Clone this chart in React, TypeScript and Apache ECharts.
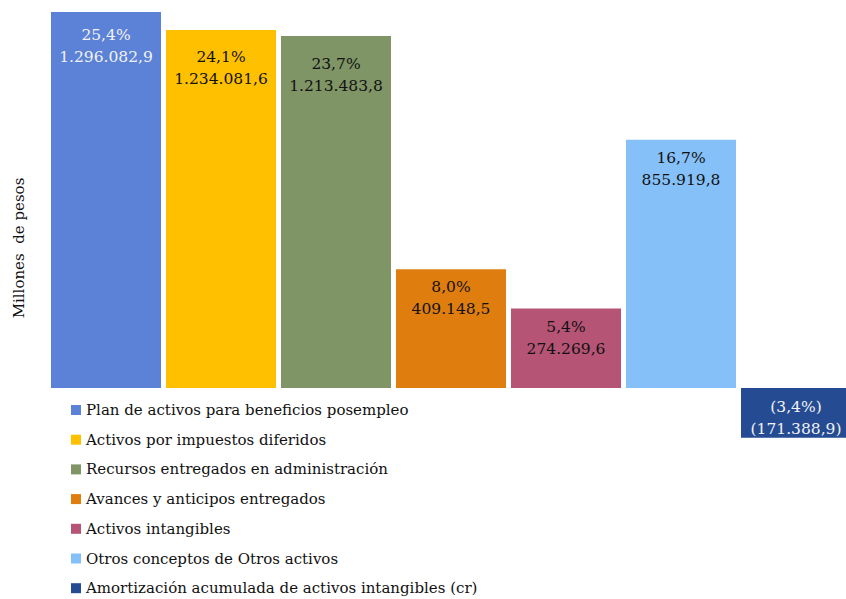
import React, { useEffect, useRef } from "react";
import * as echarts from "echarts";

const categories = [
  "Plan de activos para beneficios posempleo",
  "Activos por impuestos diferidos",
  "Recursos entregados en administración",
  "Avances y anticipos entregados",
  "Activos intangibles",
  "Otros conceptos de Otros activos",
  "Amortización acumulada de activos intangibles (cr)",
];
const values = [1296082.9, 1234081.6, 1213483.8, 409148.5, 274269.6, 855919.8, -171388.9];
const shares = [25.4, 24.1, 23.7, 8.0, 5.4, 16.7, -3.4];
const colors = ["#5B82D7", "#FFC000", "#7F9566", "#DF7E0F", "#B55474", "#86C0F8", "#254B92"];
const labelColors = ["#F2F2F2", "#111", "#111", "#111", "#111", "#111", "#F2F2F2"];
const labelDistances = [12, 16, 17, 7, 8, 7, 8];

function fmtNum(v: number, decimals: number): string {
  const abs = Math.abs(v);
  const fixed = abs.toFixed(decimals);
  const [intPart, dec] = fixed.split(".");
  const withDots = intPart.replace(/\B(?=(\d{3})+(?!\d))/g, ".");
  return dec !== undefined ? withDots + "," + dec : withDots;
}

export default function App() {
  const ref = useRef<HTMLDivElement>(null);
  useEffect(() => {
    if (!ref.current) return;
    const chart = echarts.init(ref.current, null, { renderer: "svg" });
    const font = "DejaVu Serif";
    const series = categories.map((name, i) => ({
      name,
      type: "bar",
      barWidth: 110,
      barGap: "-100%",
      itemStyle: { color: colors[i] },
      data: categories.map((_, j) => (j === i ? values[i] : null)),
      label: {
        show: true,
        position: "insideTop",
        distance: labelDistances[i],
        fontFamily: font,
        fontSize: 15.5,
        lineHeight: 22,
        color: labelColors[i],
        formatter: () => {
          const p = fmtNum(shares[i], 1) + "%";
          const n = fmtNum(values[i], 1);
          return values[i] < 0 ? `(${p})\n(${n})` : `${p}\n${n}`;
        },
      },
    }));
    chart.setOption({
      animation: false,
      textStyle: { fontFamily: font },
      grid: { left: 48.5, width: 805, top: 10.9, height: 435.1 },
      xAxis: { type: "category", data: categories, show: false },
      yAxis: { type: "value", min: -200000, max: 1300000, show: false },
      legend: {
        orient: "vertical",
        left: 71,
        top: 400,
        height: 260,
        padding: 0,
        itemWidth: 10,
        itemHeight: 10,
        itemGap: 9.7,
        icon: "rect",
        selectedMode: false,
        data: categories,
        textStyle: { fontFamily: font, fontSize: 15, lineHeight: 20, color: "#111" },
      },
      graphic: [
        {
          type: "text",
          x: 19,
          y: 248,
          rotation: Math.PI / 2,
          style: {
            text: "Millones  de pesos",
            fontFamily: font,
            fontSize: 15,
            fill: "#111",
            align: "center",
            verticalAlign: "middle",
          },
        },
      ],
      series,
    });
    return () => chart.dispose();
  }, []);
  return (
    <div style={{ position: "absolute", left: 0, top: 0, width: 846, height: 599, overflow: "hidden" }}>
      <div ref={ref} style={{ width: 860, height: 599 }} />
    </div>
  );
}
